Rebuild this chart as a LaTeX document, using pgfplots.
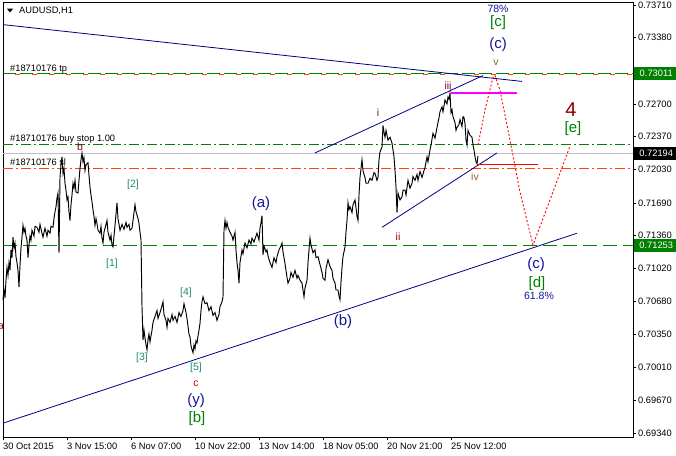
\documentclass[border=0pt]{standalone}
\usepackage{fontspec}
\setmainfont{Liberation Sans}
\usepackage{pgfplots}
\pgfplotsset{compat=1.18}

\definecolor{navyln}{RGB}{0,0,128}
\definecolor{mtgreen}{RGB}{0,128,0}
\definecolor{mtorange}{RGB}{255,69,0}
\definecolor{mtsilver}{RGB}{192,192,192}
\definecolor{mtmagenta}{RGB}{255,0,255}
\definecolor{mtred}{RGB}{255,0,0}
\definecolor{wavered}{RGB}{140,0,0}
\definecolor{waveteal}{RGB}{30,140,110}
\definecolor{wavebrown}{RGB}{150,90,40}
\definecolor{wavepurple}{RGB}{128,0,64}
\definecolor{waveblue}{RGB}{20,20,150}

\newcommand{\smallf}{\fontsize{9.3}{11}\selectfont}
\newcommand{\wavef}{\fontsize{10.5}{12}\selectfont}
\newcommand{\bigf}{\fontsize{15}{18}\selectfont}

\begin{document}
\begin{tikzpicture}
\useasboundingbox (0,0) rectangle (676pt,455pt);
\begin{axis}[
    at={(3pt,18pt)}, anchor=south west,
    scale only axis, width=630pt, height=435pt,
    xmin=3, xmax=633, ymin=0.69299, ymax=0.73741,
    clip=false,
    axis line style={line width=0.8pt},
    tick align=outside, major tick length=3pt,
    tick style={black, line width=0.6pt},
    xtick pos=left, ytick pos=right, yticklabel pos=right,
    xtick={3,67,131,195,259,323,387,451},
    xticklabels={30 Oct 2015,3 Nov 15:00,6 Nov 07:00,10 Nov 22:00,13 Nov 14:00,18 Nov 05:00,20 Nov 21:00,25 Nov 12:00},
    ytick={0.7371,0.7338,0.7270,0.7237,0.7203,0.7169,0.7136,0.7102,0.7068,0.7035,0.7001,0.6967,0.6934},
    yticklabels={0.73710,0.73380,0.72700,0.72370,0.72030,0.71690,0.71360,0.71020,0.70680,0.70350,0.70010,0.69670,0.69340},
    /pgf/number format/assume math mode=true,
    xticklabel style={anchor=north west, inner sep=0pt, yshift=-3pt, font=\smallf},
    yticklabel style={anchor=west, inner sep=0pt, xshift=2pt, font=\smallf},
]

% order lines
\addplot[mtgreen, line width=1.2pt, dash pattern=on 13pt off 4pt] coordinates {(3,0.73011) (633,0.73011)};
\addplot[mtorange, line width=0.7pt, dash pattern=on 5pt off 12pt, dash phase=-12pt] coordinates {(3,0.72998) (633,0.72998)};
\addplot[mtgreen, line width=1.1pt, dash pattern=on 10pt off 3pt on 2pt off 3pt] coordinates {(3,0.72290) (633,0.72290)};
\addplot[mtsilver, line width=0.9pt] coordinates {(3,0.72194) (633,0.72194)};
\addplot[mtorange, line width=1.1pt, dash pattern=on 10pt off 3pt on 2pt off 3pt] coordinates {(3,0.72040) (633,0.72040)};
\addplot[mtgreen, line width=1.2pt, dash pattern=on 14pt off 6pt] coordinates {(3,0.71253) (633,0.71253)};

% trend lines
\addplot[navyln, line width=0.8pt] coordinates {(3,0.7351) (522,0.7293)};
\addplot[navyln, line width=0.8pt] coordinates {(315,0.7220) (483,0.7299)};
\addplot[navyln, line width=0.8pt] coordinates {(382,0.7144) (497,0.7220)};
\addplot[navyln, line width=0.8pt] coordinates {(3,0.6944) (577,0.7138)};

% price (close, H1)
\addplot[black, line width=0.95pt] coordinates {
(3,0.7070) (4,0.7080) (5,0.7072) (6,0.7090) (7,0.7103) (8,0.7095) (9,0.7108) (10,0.7100)
(11,0.7121) (12,0.7113) (13,0.7134) (14,0.7123) (15,0.7128) (16,0.7114) (17,0.7108) (18,0.7100)
(19,0.7083) (20,0.7105) (21,0.7123) (22,0.7134) (23,0.7146) (24,0.7139) (25,0.7143) (26,0.7135)
(27,0.7131) (28,0.7113) (29,0.7126) (30,0.7135) (31,0.7131) (32,0.7141) (34,0.7135) (35,0.7145)
(37,0.7144) (39,0.7139) (40,0.7147) (42,0.7138) (43,0.7134) (45,0.7143) (47,0.7135) (48,0.7141)
(50,0.7138) (51,0.7145) (53,0.7144) (54,0.7153) (55,0.7160) (56,0.7165) (57,0.7174) (58,0.7179)
(59,0.7118) (60,0.7195) (61,0.7208) (62,0.7216) (63,0.7199) (64,0.7204) (65,0.7189) (66,0.7182)
(67,0.7172) (68,0.7175) (69,0.7160) (70,0.7151) (71,0.7167) (72,0.7177) (73,0.7189) (74,0.7184)
(75,0.7192) (76,0.7180) (78,0.7179) (79,0.7192) (80,0.7204) (81,0.7213) (82,0.7220) (83,0.7211)
(84,0.7215) (85,0.7202) (86,0.7208) (88,0.7210) (89,0.7197) (90,0.7185) (91,0.7177) (92,0.7170)
(93,0.7162) (94,0.7155) (95,0.7146) (96,0.7153) (97,0.7148) (98,0.7141) (100,0.7138) (101,0.7145)
(102,0.7133) (103,0.7128) (104,0.7139) (105,0.7143) (107,0.7151) (108,0.7139) (110,0.7131) (111,0.7136)
(112,0.7126) (113,0.7124) (114,0.7135) (115,0.7146) (117,0.7169) (118,0.7153) (120,0.7141) (122,0.7147)
(124,0.7142) (126,0.7149) (127,0.7144) (129,0.7147) (130,0.7141) (132,0.7143) (133,0.7151) (135,0.7167)
(136,0.7160) (138,0.7153) (139,0.7148) (140,0.7139) (141,0.7131) (142,0.7063) (143,0.7029) (144,0.7039)
(145,0.7031) (146,0.7024) (147,0.7019) (148,0.7029) (149,0.7035) (150,0.7027) (152,0.7039) (153,0.7047)
(155,0.7053) (157,0.7059) (158,0.7051) (160,0.7057) (162,0.7064) (163,0.7068) (164,0.7055) (166,0.7049)
(167,0.7042) (168,0.7051) (170,0.7047) (172,0.7055) (173,0.7049) (175,0.7053) (177,0.7047) (179,0.7057)
(181,0.7053) (183,0.7059) (184,0.7066) (186,0.7057) (187,0.7051) (188,0.7043) (189,0.7035) (190,0.7032)
(191,0.7023) (192,0.7019) (193,0.7016) (194,0.7024) (195,0.7020) (196,0.7028) (197,0.7026) (198,0.7033)
(199,0.7039) (200,0.7046) (201,0.7059) (202,0.7068) (203,0.7073) (205,0.7066) (207,0.7067) (209,0.7059)
(211,0.7063) (213,0.7054) (215,0.7057) (217,0.7049) (219,0.7055) (220,0.7063) (222,0.7068) (223,0.7073)
(224,0.7141) (225,0.7151) (226,0.7143) (227,0.7149) (228,0.7144) (230,0.7139) (232,0.7135) (233,0.7131)
(235,0.7139) (236,0.7121) (237,0.7108) (238,0.7100) (239,0.7087) (240,0.7108) (242,0.7121) (243,0.7117)
(245,0.7128) (247,0.7123) (249,0.7131) (251,0.7127) (252,0.7133) (254,0.7129) (256,0.7135) (257,0.7138)
(259,0.7131) (260,0.7143) (261,0.7149) (262,0.7156) (263,0.7116) (264,0.7125) (266,0.7119) (267,0.7121)
(268,0.7115) (270,0.7108) (272,0.7103) (274,0.7113) (276,0.7108) (277,0.7114) (279,0.7121) (281,0.7125)
(282,0.7128) (283,0.7119) (285,0.7107) (286,0.7100) (287,0.7093) (288,0.7087) (290,0.7092) (291,0.7098)
(293,0.7093) (295,0.7100) (297,0.7092) (298,0.7095) (300,0.7090) (302,0.7087) (303,0.7080) (304,0.7073)
(305,0.7082) (307,0.7090) (308,0.7108) (309,0.7121) (310,0.7133) (311,0.7126) (313,0.7118) (315,0.7121)
(316,0.7113) (318,0.7114) (320,0.7106) (322,0.7098) (323,0.7092) (325,0.7090) (326,0.7102) (328,0.7111)
(330,0.7104) (332,0.7100) (333,0.7092) (335,0.7087) (336,0.7080) (338,0.7080) (339,0.7074) (340,0.7070)
(341,0.7088) (342,0.7103) (343,0.7114) (345,0.7124) (346,0.7139) (347,0.7151) (348,0.7169) (349,0.7162)
(350,0.7165) (352,0.7159) (353,0.7167) (355,0.7172) (356,0.7164) (357,0.7155) (358,0.7151) (359,0.7177)
(360,0.7195) (361,0.7204) (362,0.7213) (363,0.7202) (364,0.7198) (365,0.7195) (366,0.7189) (368,0.7189)
(370,0.7194) (372,0.7192) (374,0.7200) (375,0.7199) (377,0.7192) (378,0.7195) (379,0.7213) (380,0.7221)
(382,0.7226) (383,0.7248) (384,0.7241) (385,0.7236) (386,0.7243) (388,0.7233) (390,0.7236) (392,0.7230)
(393,0.7223) (394,0.7216) (395,0.7202) (396,0.7185) (397,0.7159) (398,0.7179) (400,0.7172) (402,0.7175)
(403,0.7182) (405,0.7182) (406,0.7177) (408,0.7192) (410,0.7184) (412,0.7189) (413,0.7196) (415,0.7192)
(417,0.7198) (418,0.7192) (420,0.7201) (422,0.7195) (424,0.7202) (425,0.7205) (427,0.7216) (428,0.7211)
(430,0.7223) (431,0.7228) (433,0.7240) (435,0.7235) (437,0.7246) (439,0.7256) (440,0.7262) (442,0.7267)
(443,0.7262) (445,0.7274) (447,0.7270) (448,0.7277) (449,0.7275) (450,0.7281) (451,0.7261) (452,0.7264)
(453,0.7257) (455,0.7251) (456,0.7243) (457,0.7246) (459,0.7249) (460,0.7254) (462,0.7247) (463,0.7257)
(464,0.7256) (465,0.7250) (466,0.7233) (467,0.7228) (468,0.7243) (470,0.7238) (472,0.7236) (473,0.7228)
(474,0.7223) (475,0.7216) (476,0.7211) (477,0.7209) (478,0.7217)
};

% wave levels
\addplot[color=mtmagenta, line width=1.4pt] coordinates {(451,0.7281) (517,0.7281)};
\addplot[color=mtred, line width=1.2pt] coordinates {(477,0.72085) (538,0.72085)};

% projected path
\addplot[color=mtred, line width=0.9pt, dash pattern=on 2pt off 2pt] coordinates {
(478,0.7228) (485,0.7264) (493,0.7297) (495,0.7299) (500,0.7284) (510,0.7233)
(520,0.7180) (533,0.7126) (550,0.7172) (570,0.7227)
};

% header and order labels
\fill (axis cs:7,0.73672) -- (axis cs:13,0.73672) -- (axis cs:10,0.73635) -- cycle;
\node[anchor=west, inner sep=0pt, font=\smallf] at (axis cs:19,0.7365) {AUDUSD,H1};
\node[anchor=west, inner sep=0pt, font=\smallf] at (axis cs:10,0.7305) {\#18710176 tp};
\node[anchor=west, inner sep=0pt, font=\smallf] at (axis cs:10,0.7234) {\#18710176 buy stop 1.00};
\node[anchor=west, inner sep=0pt, font=\smallf] at (axis cs:10,0.7211) {\#18710176 sl};

% price tags on the right
\node[anchor=west, fill=mtgreen, text=white, minimum width=44pt, minimum height=13pt, inner sep=0pt, font=\smallf] at (axis cs:634,0.73011) {0.73011};
\node[anchor=west, fill=black, text=white, minimum width=44pt, minimum height=13pt, inner sep=0pt, font=\smallf] at (axis cs:634,0.72194) {0.72194};
\node[anchor=west, fill=mtgreen, text=white, minimum width=44pt, minimum height=13pt, inner sep=0pt, font=\smallf] at (axis cs:634,0.71253) {0.71253};

% wave labels
\node[text=wavered, font=\wavef] at (axis cs:1,0.7042) {a};
\node[text=wavered, font=\wavef] at (axis cs:80,0.7226) {b};
\node[text=waveteal, font=\wavef] at (axis cs:112,0.7107) {[1]};
\node[text=waveteal, font=\wavef] at (axis cs:133,0.7187) {[2]};
\node[text=waveteal, font=\wavef] at (axis cs:142,0.7011) {[3]};
\node[text=waveteal, font=\wavef] at (axis cs:186,0.7077) {[4]};
\node[text=waveteal, font=\wavef] at (axis cs:196,0.7001) {[5]};
\node[text=mtred!80!black, font=\wavef] at (axis cs:196,0.6984) {c};
\node[text=waveblue, font=\bigf] at (axis cs:196,0.6967) {(y)};
\node[text=mtgreen, font=\bigf] at (axis cs:197,0.6949) {[b]};
\node[text=waveblue, font=\bigf] at (axis cs:261,0.7168) {(a)};
\node[text=waveblue, font=\bigf] at (axis cs:343,0.7048) {(b)};
\node[text=wavered, font=\wavef] at (axis cs:378,0.7261) {i};
\node[text=wavered, font=\wavef] at (axis cs:398,0.7134) {ii};
\node[text=wavepurple, font=\wavef] at (axis cs:448,0.7289) {iii};
\node[text=wavebrown, font=\wavef] at (axis cs:475,0.7196) {iv};
\node[text=wavebrown, font=\wavef] at (axis cs:496,0.7312) {v};
\node[text=waveblue, font=\wavef] at (axis cs:498,0.7367) {78\%};
\node[text=mtgreen, font=\bigf] at (axis cs:498,0.7353) {[c]};
\node[text=waveblue, font=\bigf] at (axis cs:498,0.7331) {(c)};
\node[text=wavered, font=\fontsize{20}{24}\selectfont] at (axis cs:571,0.7264) {4};
\node[text=mtgreen, font=\bigf] at (axis cs:573,0.7245) {[e]};
\node[text=waveblue, font=\bigf] at (axis cs:536,0.7106) {(c)};
\node[text=mtgreen, font=\bigf] at (axis cs:537,0.7087) {[d]};
\node[text=waveblue, font=\wavef] at (axis cs:539,0.7074) {61.8\%};

\end{axis}
\end{tikzpicture}
\end{document}
